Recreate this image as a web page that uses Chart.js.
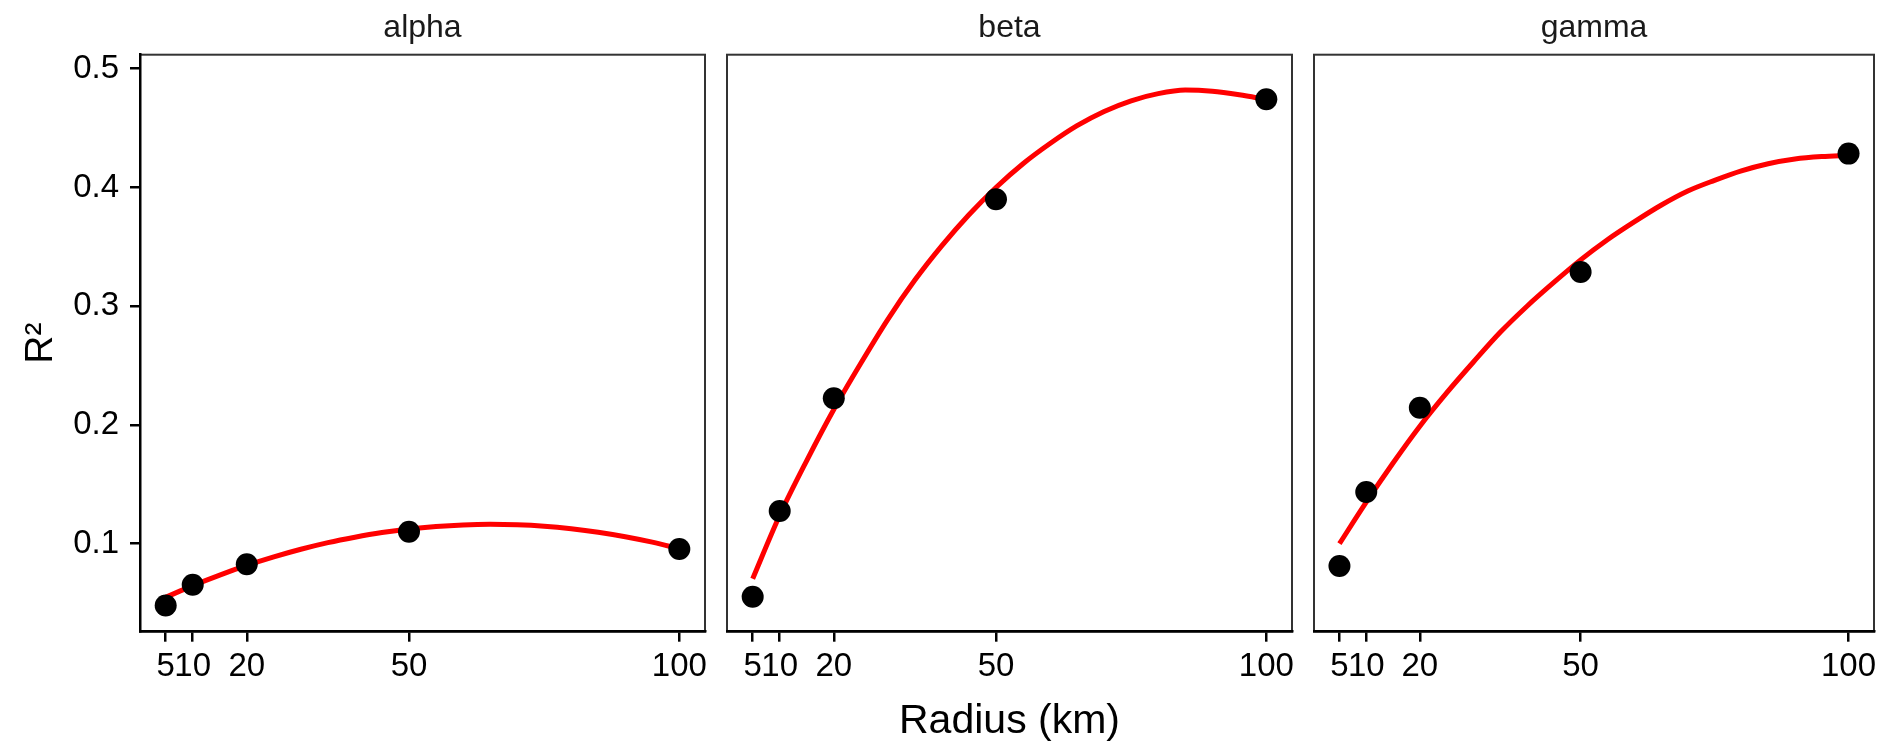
<!DOCTYPE html>
<html>
<head>
<meta charset="utf-8">
<script src="https://cdn.jsdelivr.net/npm/chart.js@4.4.1/dist/chart.umd.min.js"></script>
<style>
  html, body { margin: 0; padding: 0; background: #fff; overflow: hidden; }
  #wrap { position: relative; width: 1885px; height: 741px; }
  canvas { position: absolute; top: 0; }
</style>
</head>
<body>
<div id="wrap">
  <canvas id="pAlpha" width="735" height="741" style="left:0px"></canvas>
  <canvas id="pBeta" width="625" height="741" style="left:697px"></canvas>
  <canvas id="pGamma" width="601" height="741" style="left:1284px"></canvas>
</div>
<script>
// observed R2 per radius (km)
const radius = [5, 10, 20, 50, 100];
const alphaR2 = [0.048, 0.0655, 0.0827, 0.110, 0.0955];
const betaR2 = [0.0553, 0.1275, 0.2225, 0.390, 0.4743];
const gammaR2 = [0.0812, 0.1435, 0.2145, 0.3288, 0.4285];

// fitted curve
const fitRadius = [5, 10, 15, 20, 25, 30, 35, 40, 45, 50, 55, 60, 65, 70, 75, 80, 85, 90, 95, 100];
const alphaFit = [0.0549, 0.0647, 0.0736, 0.0817, 0.0889, 0.0953, 0.1009, 0.1055, 0.1094, 0.1124,
  0.1145, 0.1158, 0.1163, 0.1159, 0.1147, 0.1126, 0.1097, 0.1059, 0.1013, 0.0958];
const betaFit = [0.0705, 0.124, 0.170, 0.213, 0.252, 0.289, 0.322, 0.351, 0.377, 0.400,
  0.420, 0.437, 0.452, 0.464, 0.473, 0.479, 0.482, 0.481, 0.478, 0.474];
const gammaFit = [0.100, 0.135, 0.168, 0.199, 0.227, 0.253, 0.278, 0.300, 0.320, 0.339,
  0.356, 0.371, 0.385, 0.397, 0.406, 0.414, 0.420, 0.424, 0.426, 0.427];

const xTicks = [5, 10, 20, 50, 100];
const yTicks = [0.1, 0.2, 0.3, 0.4, 0.5];

const FONT = "'Liberation Sans', Arial, sans-serif";

// frame round each facet (drawn before the axes so the axis lines sit on top)
const panelBox = {
  id: 'panelBox',
  beforeDraw(chart) {
    const { ctx, chartArea: a } = chart;
    ctx.save();
    ctx.strokeStyle = '#333333';
    ctx.lineWidth = 2;
    ctx.strokeRect(a.left, a.top, a.right - a.left, a.bottom - a.top);
    ctx.restore();
  }
};

function makePanel(id, name, pts, fit, opts) {
  const ctx = document.getElementById(id).getContext('2d');
  return new Chart(ctx, {
    type: 'scatter',
    data: {
      datasets: [{
        data: radius.map((r, i) => ({ x: r, y: pts[i] })),
        pointRadius: 11,
        pointBackgroundColor: '#000',
        pointBorderWidth: 0,
        showLine: false
      }, {
        data: fitRadius.map((r, i) => ({ x: r, y: fit[i] })),
        showLine: true,
        pointRadius: 0,
        borderColor: '#ff0000',
        borderWidth: 5,
        cubicInterpolationMode: 'monotone'
      }]
    },
    options: {
      responsive: false,
      animation: false,
      events: [],
      layout: { padding: { left: opts.padL, right: opts.padR, top: 0, bottom: 0 } },
      plugins: {
        legend: { display: false },
        tooltip: { enabled: false },
        title: {
          display: true,
          text: name,
          fullSize: false,
          color: '#1a1a1a',
          font: { family: FONT, size: 32, weight: 'normal' },
          padding: { top: 8.9, bottom: 7.4 }
        }
      },
      scales: {
        x: {
          type: 'linear',
          min: 0.25,
          max: 104.75,
          afterBuildTicks: s => { s.ticks = xTicks.map(v => ({ value: v })); },
          afterFit: s => { s.height = 109.3; },
          grid: { drawOnChartArea: false, drawTicks: true, tickLength: 10, color: '#000', lineWidth: 2.5 },
          border: { display: true, color: '#000', width: 2.5 },
          ticks: {
            autoSkip: false, maxRotation: 0, minRotation: 0, padding: 5,
            color: '#000', font: { family: FONT, size: 33 },
            callback: v => String(v)
          },
          title: {
            display: opts.xTitle,
            text: 'Radius (km)',
            color: '#000',
            font: { family: FONT, size: 41, lineHeight: 0.95 },
            padding: { top: 0, bottom: 0 }
          }
        },
        y: {
          type: 'linear',
          display: opts.yAxis,
          min: 0.0259,
          max: 0.5118,
          afterBuildTicks: s => { s.ticks = yTicks.map(v => ({ value: v })); },
          afterFit: s => { s.width = opts.yAxis ? 140 : 0; },
          grid: { drawOnChartArea: false, drawTicks: true, tickLength: 10, color: '#000', lineWidth: 2.5 },
          border: { display: true, color: '#000', width: 2.5 },
          ticks: {
            padding: 11, color: '#000', font: { family: FONT, size: 33 },
            callback: v => v.toFixed(1)
          },
          title: {
            display: true,
            text: 'R²',
            color: '#000',
            font: { family: FONT, size: 39 },
            padding: { top: 17.5, bottom: 0 }
          }
        }
      }
    },
    plugins: [panelBox]
  });
}

makePanel('pAlpha', 'alpha', alphaR2, alphaFit, { padL: 0, padR: 30, yAxis: true, xTitle: false });
makePanel('pBeta', 'beta', betaR2, betaFit, { padL: 30, padR: 30, yAxis: false, xTitle: true });
makePanel('pGamma', 'gamma', gammaR2, gammaFit, { padL: 30, padR: 6, yAxis: false, xTitle: false });
</script>
</body>
</html>
